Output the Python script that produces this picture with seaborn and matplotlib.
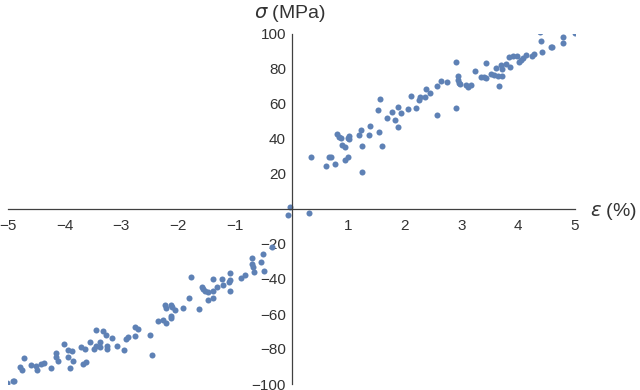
import matplotlib
matplotlib.use("Agg")
import matplotlib.pyplot as plt
import seaborn as sns
import pandas as pd

# strain (%) and stress (MPa)
strain_neg = [
    -0.02, -0.07, 0.31, -0.34, -0.50, -0.54, -0.48, -0.70, -0.69, -0.68,
    -0.66, -0.82, -0.89, -1.08, -1.09, -1.10, -1.08, -1.21, -1.23, -1.31,
    -1.39, -1.39, -1.39, -1.47, -1.57, -1.56, -1.53, -1.48, -1.64, -1.78,
    -1.81, -1.92, -2.06, -2.12, -2.10, -2.23, -2.22, -2.12, -2.13, -2.26,
    -2.22, -2.36, -2.49, -2.46, -2.70, -2.76, -2.76, -2.89, -2.92, -2.95,
    -3.07, -3.17, -3.28, -3.33, -3.26, -3.26, -3.38, -3.37, -3.45, -3.44,
    -3.49, -3.56, -3.64, -3.72, -3.62, -3.68, -3.88, -3.94, -4.01, -3.95,
    -3.85, -3.91, -4.16, -4.15, -4.11, -4.25, -4.36, -4.42, -4.48, -4.50,
    -4.59, -4.72, -4.79, -4.76, -4.89, -4.92, -5.01,
]
stress_neg = [
    1.3, -3.4, -2.1, -21.9, -26.0, -30.3, -35.2, -28.2, -31.4, -33.3,
    -36.0, -37.9, -39.6, -36.8, -40.6, -41.7, -46.7, -43.4, -39.8, -44.4,
    -39.8, -47.0, -51.0, -52.0, -44.4, -45.9, -46.9, -47.4, -57.0, -38.7,
    -50.7, -56.8, -57.7, -55.0, -56.2, -55.0, -56.3, -61.0, -62.5, -63.4,
    -65.3, -63.8, -72.0, -83.4, -68.8, -67.2, -72.4, -73.0, -74.1, -80.6,
    -78.1, -73.7, -72.2, -69.9, -78.3, -80.2, -75.8, -78.9, -69.3, -78.3,
    -80.2, -75.8, -80.0, -79.0, -87.2, -88.6, -81.1, -80.6, -77.3, -84.4,
    -86.7, -90.9, -82.5, -84.4, -86.7, -91.0, -87.8, -88.8, -92.0, -89.7,
    -89.3, -85.0, -90.0, -92.0, -98.1, -98.1, -99.2,
]
strain_pos = [
    0.34, 0.60, 0.67, 0.70, 0.77, 0.81, 0.84, 0.87, 0.89, 0.95,
    0.95, 0.99, 0.99, 1.02, 1.02, 1.19, 1.23, 1.24, 1.24, 1.36,
    1.39, 1.52, 1.56, 1.54, 1.59, 1.69, 1.77, 1.83, 1.87, 1.87,
    1.93, 2.05, 2.11, 2.20, 2.25, 2.27, 2.36, 2.38, 2.44, 2.56,
    2.56, 2.64, 2.75, 2.91, 2.91, 2.94, 2.93, 2.95, 2.97, 3.08,
    3.12, 3.16, 3.23, 3.34, 3.39, 3.43, 3.43, 3.52, 3.57, 3.60,
    3.64, 3.66, 3.70, 3.71, 3.72, 3.79, 3.83, 3.85, 3.91, 3.97,
    4.02, 4.04, 4.09, 4.13, 4.25, 4.27, 4.38, 4.40, 4.41, 4.57,
    4.60, 4.79, 4.79, 5.00,
]
stress_pos = [
    29.7, 24.6, 29.7, 29.7, 25.5, 43.0, 41.3, 40.4, 36.6, 35.6,
    28.0, 29.9, 40.4, 41.9, 39.8, 42.1, 45.3, 36.2, 21.3, 42.5,
    47.2, 56.6, 63.0, 44.0, 36.0, 51.8, 55.2, 50.9, 58.5, 47.0,
    54.9, 57.3, 64.6, 57.9, 62.3, 64.0, 64.0, 68.8, 66.3, 70.1,
    53.7, 73.1, 72.6, 84.0, 57.5, 75.8, 73.7, 72.2, 71.2, 70.9,
    69.9, 71.0, 79.0, 75.2, 75.4, 83.6, 74.9, 77.3, 76.8, 80.4,
    76.0, 70.5, 82.1, 80.0, 75.8, 82.9, 86.9, 81.1, 87.4, 87.4,
    84.0, 85.1, 86.5, 88.0, 87.4, 88.4, 101.0, 95.8, 89.7, 92.8,
    92.8, 98.1, 94.9, 100.4,
]

x_ticks = [-5, -4, -3, -2, -1, 1, 2, 3, 4, 5]
y_ticks = [-100, -80, -60, -40, -20, 20, 40, 60, 80, 100]

df = pd.DataFrame({
    "strain": strain_neg + strain_pos,
    "stress": stress_neg + stress_pos,
})

sns.set_style("white")
plt.rcParams["font.family"] = ["Liberation Sans", "DejaVu Sans"]
plt.rcParams["mathtext.fontset"] = "dejavusans"

axis_col = "#404040"
text_col = "#333333"

fig = plt.figure(figsize=(6.4, 3.9), dpi=100)
ax = fig.add_axes([8 / 640, 6 / 390, 567 / 640, 350 / 390])

sns.scatterplot(
    data=df, x="strain", y="stress", ax=ax,
    s=19, color="#5E81B5", linewidth=0, legend=False,
)

ax.set_xlim(-5, 5)
ax.set_ylim(-100, 100)
ax.set_xlabel("")
ax.set_ylabel("")

for side in ["top", "right"]:
    ax.spines[side].set_visible(False)
ax.spines["left"].set_position(("data", 0))
ax.spines["bottom"].set_position(("data", 0))
for side in ["left", "bottom"]:
    ax.spines[side].set_color(axis_col)
    ax.spines[side].set_linewidth(0.9)

ax.set_xticks(x_ticks)
ax.set_yticks(y_ticks)
ax.set_xticklabels([f"\u2212{abs(t)}" if t < 0 else str(t) for t in x_ticks])
ax.set_yticklabels([f"\u2212{abs(t)}" if t < 0 else str(t) for t in y_ticks])
ax.tick_params(axis="both", direction="in", length=4, width=0.9,
               color=axis_col, labelcolor=text_col, labelsize=11)
ax.tick_params(axis="x", pad=7.5)
ax.tick_params(axis="y", pad=4)

fig.text(254 / 640, 1 - 13 / 390, r"$\sigma$ (MPa)", ha="left", va="center",
         fontsize=14, color=text_col)
fig.text(590 / 640, 1 - 211 / 390, r"$\epsilon$ (%)", ha="left", va="center",
         fontsize=14, color=text_col)

fig.savefig("out.png", dpi=100)
